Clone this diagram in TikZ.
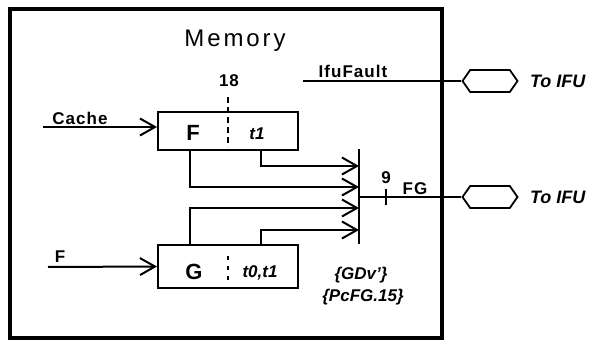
\documentclass[tikz,border=0pt]{standalone}
\usepackage{fontspec}
\setmainfont{Liberation Sans}
\newfontfamily\widesf{Liberation Sans}[LetterSpace=6]
\newfontfamily\titlesf{Liberation Sans}[LetterSpace=12]
\usetikzlibrary{arrows.meta,shapes.symbols,positioning}

\begin{document}
\begin{tikzpicture}[x=1pt,y=-1pt,
    wire/.style={line width=2pt},
    bus/.style={wire,-{Straight Barb[length=15pt,width=17pt]}},
    reg/.style={draw,line width=2pt,minimum width=140pt,inner sep=0pt},
    port/.style={draw,line width=1.8pt,signal,signal to=west and east,signal pointer angle=110,
                 minimum width=55pt,minimum height=22pt,inner sep=0pt},
    sig/.style={font=\widesf\bfseries\fontsize{17}{17}\selectfont},
    note/.style={font=\bfseries\itshape\fontsize{17}{17}\selectfont}]
    \useasboundingbox (0,0) rectangle (593,347);
    % Frame
    \draw[line width=4.5pt] (10,9) rectangle (442,338);
    \node (mem) at (235,41) {\titlesf\fontsize{24}{24}\selectfont Memory};
    % Registers
    \node[reg,minimum height=38pt] (F) at (228,131) {};
    \node[reg,minimum height=43pt] (G) at (228,266.5) {};
    \draw[line width=2pt,dash pattern=on 6pt off 4pt] (228,97) -- (228,147);
    \draw[line width=2pt,dash pattern=on 4pt off 6pt] (228,256) -- (228,281);
    \node[font=\bfseries\fontsize{22}{22}\selectfont] (fname) at (193,133) {F};
    \node[note] (ftime) at (257,134) {t1};
    \node[font=\bfseries\fontsize{22}{22}\selectfont] (gname) at (194,272) {G};
    \node[note] (gtime) at (260,273) {t0,t1};
    \node[sig] (width18) at (229,81) {18};
    % Inputs
    \coordinate (cachein) at (43,127);
    \coordinate (fin) at (48,267);
    \draw[bus] (cachein) -- (cachein -| F.west);
    \draw[bus] (fin) -- (G.west);
    \node[sig] (cache) at (80,118) {Cache};
    \node[sig] (flabel) at (60,257) {F};
    % Merge bar
    \coordinate (bartop) at (359,149);
    \coordinate (barbot) at (359,244);
    \draw[wire] (bartop) -- (barbot);
    \draw[bus] ([xshift=104pt]F.south west) |- (359,166);
    \draw[bus] ([xshift=33pt]F.south west) |- (359,187);
    \draw[bus] ([xshift=33pt]G.north west) |- (359,208);
    \draw[bus] ([xshift=104pt]G.north west) |- (359,230);
    % Outputs
    \node[port] (ifu1) at (490,81) {};
    \node[port] (ifu2) at (490,197) {};
    \node[note,font=\bfseries\itshape\fontsize{18}{18}\selectfont,right=8pt of ifu1] (to1) {To IFU};
    \node[note,font=\bfseries\itshape\fontsize{18}{18}\selectfont,right=8pt of ifu2] (to2) {To IFU};
    \coordinate (fault) at (303,81);
    \coordinate (out) at (359,197);
    \draw[wire] (fault) -- (ifu1.west);
    \draw[wire] (out) -- (ifu2.west);
    \draw[wire] (386,189) -- (386,205);
    \node[sig] (fault lbl) at (353,71) {IfuFault};
    \node[sig] (width9) at (386,178) {9};
    \node[sig] (fg) at (415,189) {FG};
    \node[note] (gdv) at (361,275) {\{GDv'\}};
    \node[note] (pcfg) at (363,297) {\{PcFG.15\}};
\end{tikzpicture}
\end{document}
